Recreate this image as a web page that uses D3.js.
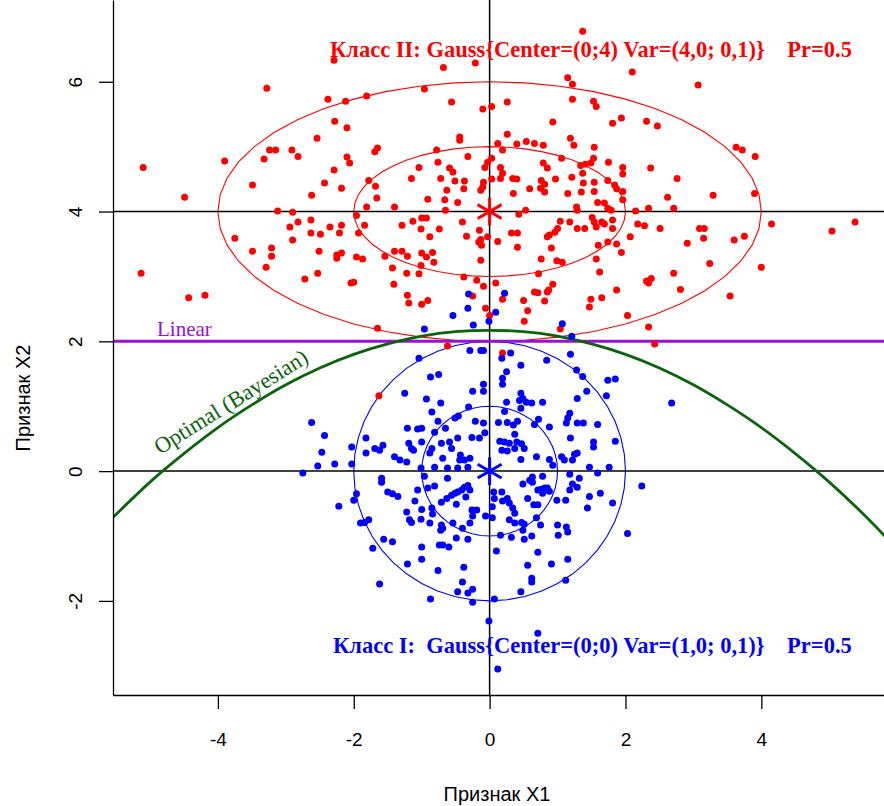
<!DOCTYPE html>
<html><head><meta charset="utf-8">
<script src="https://cdn.jsdelivr.net/npm/d3@7"></script>
<style>body{margin:0;background:#fff}</style>
</head><body>
<svg id="chart" width="884" height="806"></svg>
<script>
// ---------- data ----------
const classII = [[-2.29,6.33],[-3.28,5.90],[-2.38,5.73],[-2.12,5.70],[-1.81,5.78],[-2.28,5.39],[-2.10,5.29],[-2.54,5.13],[-3.24,4.95],[-3.15,4.95],[-2.91,4.95],[-2.82,4.85],[-3.32,4.81],[-3.90,4.78],[-5.10,4.68],[-2.10,4.84],[-2.06,4.75],[-1.69,4.92],[-1.65,4.98],[-2.29,4.64],[-3.49,4.41],[-2.43,4.44],[-2.18,4.36],[-1.78,4.48],[-1.68,4.39],
[1.37,6.78],[-0.68,6.22],[-0.21,6.29],[-0.96,5.89],[1.15,6.06],[1.22,5.96],[-0.56,5.69],[-0.10,5.58],[0.03,5.62],[0.26,5.69],[1.22,5.73],[1.53,5.70],[1.57,5.62],[1.94,5.44],[1.81,5.36],[0.93,5.38],[-0.44,5.15],[-0.44,5.10],[0.26,5.19],[1.19,5.13],[1.24,5.02],[-0.78,4.95],[0.12,5.05],[0.19,4.95],[0.40,5.04],[0.54,5.08],[0.66,5.05],[0.79,5.02],[1.54,4.99],[-0.32,4.85],[-0.76,4.76],[0.03,4.82],[-0.03,4.76],[1.06,4.82],[1.53,4.82],[1.34,4.71],[1.41,4.73],[1.49,4.75],[1.75,4.76],[-1.04,4.68],[-0.59,4.67],[-0.54,4.61],[-0.07,4.68],[0.16,4.68],[0.19,4.59],[0.79,4.75],[0.85,4.67],[1.37,4.59],[1.96,4.68],[1.96,4.58],[-1.15,4.51],[-0.72,4.51],[-0.51,4.47],[-0.37,4.47],[-0.09,4.45],[0.03,4.50],[0.16,4.51],[0.34,4.51],[0.40,4.50],[0.76,4.48],[0.81,4.42],[0.97,4.50],[1.21,4.53],[1.38,4.44],[1.54,4.45],[1.74,4.48],[1.84,4.41],
[2.10,6.15],[3.07,5.95],[2.31,5.39],[2.47,5.32],[3.63,4.99],[3.72,4.95],[3.91,4.85],[2.37,4.67],[2.76,4.51],
[-4.49,4.22],[-2.62,4.25],[-1.66,4.21],[-1.81,4.07],[-3.12,4.01],[-2.90,3.99],[-1.96,3.94],[-2.82,3.84],[-2.94,3.76],[-2.63,3.87],[-2.35,3.76],[-2.18,3.79],[-1.84,3.79],[-2.63,3.67],[-2.49,3.65],[-2.21,3.67],[-1.93,3.67],[-3.75,3.59],[-2.90,3.56],[-3.49,3.39],[-3.21,3.44],[-3.21,3.31],[-2.51,3.39],[-2.25,3.33],[-2.25,3.28],[-2.18,3.36],[-1.96,3.30],[-1.87,3.27],[-3.29,3.14],[-5.13,3.05],[-2.53,3.05],[-2.72,2.96],[-2.04,2.90],[-2.00,2.91],[-4.43,2.67],[-4.19,2.71],[-1.65,2.20],
[-0.63,4.33],[-0.38,4.35],[-0.13,4.33],[-0.10,4.38],[0.35,4.28],[0.59,4.35],[0.75,4.36],[0.81,4.30],[1.15,4.28],[1.35,4.30],[1.54,4.31],[1.87,4.35],[-0.91,4.19],[-0.66,4.18],[-0.47,4.14],[-0.65,4.02],[-1.40,4.07],[0.53,4.02],[0.43,3.96],[1.28,4.07],[1.29,4.02],[1.59,4.14],[1.69,4.13],[1.74,4.05],[1.79,4.02],[1.96,4.18],[1.96,4.31],[-1.00,3.90],[-0.93,3.90],[-1.13,3.85],[-1.29,3.79],[-0.40,3.84],[-1.01,3.73],[-0.88,3.61],[-0.74,3.73],[-0.34,3.62],[-0.15,3.71],[-0.03,3.61],[-0.16,3.53],[-0.12,3.48],[-0.13,3.57],[0.12,3.54],[0.32,3.67],[0.41,3.67],[0.41,3.45],[1.04,3.85],[1.18,3.84],[1.00,3.74],[0.96,3.68],[0.88,3.64],[0.85,3.61],[1.29,3.74],[1.40,3.74],[1.51,3.91],[1.54,3.84],[1.57,3.76],[1.65,3.84],[1.69,3.81],[1.81,3.87],[1.81,3.74],[0.91,3.44],[1.60,3.48],[1.74,3.53],[1.87,3.50],[1.94,3.37],[-1.40,3.39],[-1.29,3.39],[-1.21,3.31],[-1.54,3.31],[-1.00,3.36],[-0.93,3.30],[-0.84,3.37],[-0.82,3.22],[-1.01,3.17],[-1.43,3.13],[-1.22,3.05],[-1.04,3.04],[-0.13,3.25],[0.76,3.27],[0.99,3.24],[1.07,3.22],[1.57,3.27],[1.62,3.07],[-0.38,2.99],[-0.19,2.94],[-0.09,2.85],[0.09,2.90],[0.72,3.04],[-1.41,2.88],[0.93,2.88],[0.87,2.79],[0.85,2.76],[0.66,2.76],[0.71,2.75],[-1.21,2.71],[-1.19,2.59],[-0.91,2.63],[-1.00,2.57],[-0.25,2.70],[0.19,2.65],[0.50,2.63],[0.81,2.62],[0.56,2.47],[0.51,2.31],[-0.06,2.51],[0.00,2.40],[1.49,2.65],[1.65,2.67],[1.47,2.53],[1.87,2.79],[1.04,2.19],[-0.62,1.93],
[2.62,4.22],[3.29,4.25],[3.90,4.28],[2.15,4.01],[2.34,4.05],[2.71,4.05],[2.18,3.81],[2.28,3.78],[2.51,3.74],[3.09,3.74],[3.16,3.74],[4.15,3.81],[5.04,3.70],[5.38,3.84],[2.07,3.61],[3.15,3.59],[2.91,3.51],[3.60,3.56],[3.75,3.62],[3.24,3.20],[4.00,3.14],[2.71,3.05],[2.31,2.93],[2.38,2.97],[2.34,2.90],[2.81,2.80],[3.54,2.70],[2.03,2.40],[2.34,2.22],[2.43,1.96],[-1.63,1.16],[0.19,1.82]];

const classI = [[-0.31,2.73],[0.22,2.74],[-0.32,2.51],[0.09,2.45],[-0.54,2.40],[-0.01,2.31],[-0.24,2.25],[-0.96,2.19],[1.07,2.27],[1.21,2.08],
[-0.29,1.86],[-0.13,1.86],[-0.09,1.86],[-1.04,1.74],[-0.87,1.45],[-0.75,1.49],[-0.09,1.34],[-0.09,1.23],[-0.25,1.23],[-1.25,1.20],[-0.93,1.11],[-0.72,1.05],[-0.31,0.99],[-0.85,0.91],[-0.46,0.85],[-0.51,0.82],[-0.21,0.77],[-0.09,0.74],[-0.76,0.77],[-2.62,0.75],[-1.21,0.66],[-1.06,0.65],[-1.00,0.66],[-0.65,0.66],[-0.81,0.60],[-2.43,0.55],[-1.82,0.51],[-0.26,0.52],[-0.15,0.51],[-0.07,0.59],[-0.47,0.51],[-1.00,0.45],[-1.19,0.43],[-1.15,0.35],[-1.12,0.32],[-2.03,0.37],[-1.69,0.35],[-1.57,0.40],[-1.62,0.32],[-0.85,0.35],[-0.88,0.28],[-0.71,0.43],[-0.59,0.45],[-0.56,0.35],[-2.47,0.29],[-1.82,0.28],[-1.40,0.22],[-1.32,0.17],[-1.22,0.14],[-0.69,0.20],[-0.43,0.25],[-0.37,0.17],[-0.29,0.20],[-0.44,0.17],[-2.28,0.11],[-2.53,0.08],[-2.03,0.11],[-1.01,0.05],[-0.81,0.06],[-0.62,0.05],[-0.47,0.05],[-0.32,0.06],[-2.75,-0.03],[-1.59,-0.11],[-0.96,-0.08],[-0.62,-0.11],
[0.31,1.82],[0.18,1.74],[1.19,1.80],[0.84,1.71],[0.46,1.63],[1.28,1.56],[1.37,1.46],[0.25,1.53],[0.19,1.43],[0.19,1.34],[1.74,1.40],[1.85,1.42],[1.43,1.23],[0.46,1.20],[0.49,1.12],[0.54,1.06],[0.62,1.05],[0.44,1.09],[1.72,1.16],[1.29,1.12],[0.25,1.06],[0.78,1.06],[2.68,1.05],[0.46,0.97],[0.22,0.92],[1.18,0.89],[1.15,0.82],[1.13,0.74],[0.72,0.80],[0.66,0.72],[0.41,0.77],[0.35,0.71],[0.13,0.75],[0.26,0.75],[1.29,0.74],[1.38,0.74],[1.59,0.72],[0.88,0.68],[0.37,0.57],[1.19,0.51],[1.85,0.46],[1.53,0.45],[1.53,0.37],[0.15,0.46],[0.22,0.45],[0.29,0.43],[0.40,0.45],[0.47,0.42],[0.51,0.35],[0.37,0.35],[0.18,0.32],[0.26,0.31],[0.69,0.22],[0.88,0.18],[0.93,0.09],[1.06,0.22],[1.10,0.17],[1.25,0.26],[1.29,0.28],[1.22,0.17],[0.46,0.18],[1.47,0.06],[1.59,-0.03],[1.76,0.06],[0.63,-0.09],[0.78,-0.08],[1.18,-0.05],[1.32,-0.11],
[-1.59,-0.17],[-1.50,-0.32],[-1.43,-0.35],[-1.35,-0.39],[-1.06,-0.29],[-0.91,-0.26],[-0.81,-0.23],[-1.96,-0.35],[-2.00,-0.45],[-2.22,-0.54],[-1.10,-0.46],[-1.00,-0.59],[-0.85,-0.57],[-0.84,-0.66],[-0.71,-0.48],[-0.63,-0.42],[-0.56,-0.37],[-0.51,-0.34],[-0.47,-0.32],[-0.41,-0.29],[-0.37,-0.25],[-0.32,-0.22],[-0.29,-0.29],[-0.35,-0.40],[-0.49,-0.51],[-1.22,-0.63],[-1.18,-0.75],[-1.15,-0.79],[-1.01,-0.74],[-0.88,-0.80],[-0.71,-0.83],[-0.72,-0.91],[-0.69,-0.88],[-0.54,-0.80],[-0.26,-0.60],[-0.19,-0.60],[-0.25,-0.69],[-0.06,-0.69],[-0.29,-0.80],[-0.40,-0.88],[-1.90,-0.80],[-1.84,-0.79],[-1.78,-0.75],[-1.56,-1.05],[-1.43,-1.09],[-1.72,-1.19],[-1.00,-1.17],[-0.74,-1.14],[-0.69,-1.14],[-0.60,-1.17],[-0.49,-1.03],[-0.32,-1.05],[-1.00,-1.36],[-1.21,-1.43],[-0.76,-1.53],[-0.38,-1.48],[-0.40,-1.71],[-1.62,-1.74],[-0.47,-1.86],[-0.32,-1.88],[-0.25,-1.82],[-0.87,-1.97],[-0.25,-2.02],[-0.01,-2.31],
[0.49,-0.20],[0.59,-0.14],[0.63,-0.17],[0.71,-0.29],[0.76,-0.28],[0.81,-0.26],[0.85,-0.26],[0.88,-0.31],[0.78,-0.34],[1.18,-0.29],[1.22,-0.20],[1.29,-0.25],[0.06,-0.32],[0.18,-0.32],[0.07,-0.42],[0.19,-0.46],[0.26,-0.42],[0.29,-0.49],[0.34,-0.57],[0.37,-0.65],[0.04,-0.55],[0.04,-0.72],[0.56,-0.42],[0.65,-0.52],[0.71,-0.52],[0.99,-0.45],[1.12,-0.45],[1.47,-0.39],[1.63,-0.34],[1.44,-0.57],[1.81,-0.49],[2.24,-0.23],[0.69,-0.72],[0.29,-0.75],[0.37,-0.80],[0.47,-0.79],[0.51,-0.82],[0.75,-0.83],[1.00,-0.83],[1.13,-0.86],[1.15,-0.94],[1.01,-0.99],[0.16,-0.99],[0.32,-1.02],[0.49,-0.91],[0.51,-1.05],[0.62,-1.00],[2.03,-0.96],[0.10,-1.23],[0.71,-1.25],[0.56,-1.45],[0.91,-1.43],[1.15,-1.36],[0.62,-1.65],[0.62,-1.71],[1.12,-1.68],[0.46,-1.86],[0.07,-1.97],[0.71,-2.50],[0.12,-3.05]];

const centerI = [0, 0];
const centerII = [0, 4];
const sdI = [1, 1];
const sdII = [2, 1];
const sigmaLevels = [1, 2];
const linearY = 2;
const optimalCurve = [[-5.6,-0.77],[-5,-0.17],[-4.5,0.27],[-4,0.67],[-3.5,1.02],[-3,1.33],[-2.5,1.59],[-2,1.80],[-1.5,1.96],[-1,2.08],[-0.5,2.15],[0,2.17],[0.5,2.15],[1,2.08],[1.5,1.96],[2,1.80],[2.5,1.59],[3,1.33],[3.5,1.02],[4,0.67],[4.5,0.27],[5,-0.17],[5.5,-0.66],[5.9,-1.09]];
const xTicks = [-4, -2, 0, 2, 4];
const yTicks = [-2, 0, 2, 4, 6];
const xDomain = [-5.544, 5.85];
const yDomain = [-3.45, 7.26];
const labelII = "Класс II: Gauss{Center=(0;4) Var=(4,0; 0,1)}    Pr=0.5";
const labelI  = "Класс I:  Gauss{Center=(0;0) Var=(1,0; 0,1)}    Pr=0.5";

// ---------- layout ----------
const L = 113, R = 887, T = 0, B = 695;
const svg = d3.select("#chart");
const x = d3.scaleLinear().domain(xDomain).range([L, R]);
const y = d3.scaleLinear().domain(yDomain).range([B, T]);

svg.append("defs").append("clipPath").attr("id","plotclip")
  .append("rect").attr("x",L).attr("y",T).attr("width",R-L).attr("height",B-T);
const g = svg.append("g").attr("clip-path","url(#plotclip)");

// ellipses
function ellipse(c, sd, k){
  const n = 48;
  return d3.range(n+1).map(i => {
    const a = 2*Math.PI*i/n;
    return [c[0] + k*sd[0]*Math.cos(a), c[1] + k*sd[1]*Math.sin(a)];
  });
}
const line = d3.line().x(d => x(d[0])).y(d => y(d[1]));
sigmaLevels.forEach(k => {
  g.append("path").attr("d", line(ellipse(centerII, sdII, k)))
    .attr("fill","none").attr("stroke","#ff0000").attr("stroke-width",1.1);
  g.append("path").attr("d", line(ellipse(centerI, sdI, k)))
    .attr("fill","none").attr("stroke","#0000ff").attr("stroke-width",1.1);
});

// cross lines
g.append("line").attr("x1",x(0)).attr("x2",x(0)).attr("y1",T).attr("y2",B)
  .attr("stroke","#000").attr("stroke-width",1.5);
[centerI[1], centerII[1]].forEach(v => {
  g.append("line").attr("x1",L).attr("x2",R).attr("y1",y(v)).attr("y2",y(v))
    .attr("stroke","#000").attr("stroke-width",1.5);
});

// linear boundary
g.append("line").attr("x1",L).attr("x2",R).attr("y1",y(linearY)).attr("y2",y(linearY))
  .attr("stroke","#9a10d8").attr("stroke-width",3);

// optimal boundary
g.append("path").attr("d", d3.line().x(d=>x(d[0])).y(d=>y(d[1])).curve(d3.curveNatural)(optimalCurve))
  .attr("fill","none").attr("stroke","#0a640a").attr("stroke-width",2.8);

// points
g.selectAll("circle.c2").data(classII).join("circle").attr("class","c2")
  .attr("cx",d=>x(d[0])).attr("cy",d=>y(d[1])).attr("r",3.5).attr("fill","#ff0000");
g.selectAll("circle.c1").data(classI).join("circle").attr("class","c1")
  .attr("cx",d=>x(d[0])).attr("cy",d=>y(d[1])).attr("r",3.5).attr("fill","#0000ff");

// centers
const star = d3.symbol().type(d3.symbolAsterisk).size(540);
[[centerII,"#ff0000"],[centerI,"#0000ff"]].forEach(([c,col]) => {
  g.append("path").attr("d", star()).attr("transform",`translate(${x(c[0])},${y(c[1])})`)
    .attr("fill","none").attr("stroke",col).attr("stroke-width",3);
});

// axes
const xAxis = svg.append("g").attr("transform",`translate(0,${B})`)
  .call(d3.axisBottom(x).tickValues(xTicks).tickSize(14).tickSizeOuter(0).tickFormat(d3.format("d")));
xAxis.select(".domain").attr("stroke","#000").attr("stroke-width",1.3);
xAxis.selectAll(".tick line").attr("stroke","#000").attr("stroke-width",1.3);
xAxis.selectAll(".tick text").attr("y",51).attr("dy",0)
  .style("font-family","'Liberation Sans', Arial, sans-serif").style("font-size","19px").attr("fill","#000")
  .text(d => d < 0 ? "-" + Math.abs(d) : d);

const yAxis = svg.append("g").attr("transform",`translate(${L},0)`)
  .call(d3.axisLeft(y).tickValues(yTicks).tickSize(14).tickSizeOuter(0));
yAxis.select(".domain").attr("stroke","#000").attr("stroke-width",1.3);
yAxis.selectAll(".tick line").attr("stroke","#000").attr("stroke-width",1.3);
yAxis.selectAll(".tick text").attr("x",0).attr("y",-31).attr("dy",0)
  .attr("transform","rotate(-90)").attr("text-anchor","middle")
  .style("font-family","'Liberation Sans', Arial, sans-serif").style("font-size","19px").attr("fill","#000")
  .text(d => d < 0 ? "-" + Math.abs(d) : d);

// axis titles
svg.append("text").attr("x",497).attr("y",801).attr("text-anchor","middle")
  .style("font-family","'Liberation Sans', Arial, sans-serif").style("font-size","20px")
  .text("Признак X1");
svg.append("text").attr("transform","translate(30,398) rotate(-90)").attr("text-anchor","middle")
  .style("font-family","'Liberation Sans', Arial, sans-serif").style("font-size","20px")
  .text("Признак X2");

// annotations
const serif = "'Liberation Serif', 'Times New Roman', serif";
svg.append("text").attr("x",330).attr("y",57).style("white-space","pre")
  .style("font-family",serif).style("font-size","22.5px").style("font-weight","bold").attr("fill","#ff0000")
  .text(labelII);
svg.append("text").attr("x",333).attr("y",653).style("white-space","pre")
  .style("font-family",serif).style("font-size","22.5px").style("font-weight","bold").attr("fill","#0000ff")
  .text(labelI);
svg.append("text").attr("x",157).attr("y",336)
  .style("font-family",serif).style("font-size","21px").attr("fill","#9a10d8")
  .text("Linear");
svg.append("text").attr("transform","translate(160,455) rotate(-32)")
  .style("font-family",serif).style("font-size","22.5px").attr("fill","#0a640a")
  .text("Optimal (Bayesian)");
</script>
</body></html>
